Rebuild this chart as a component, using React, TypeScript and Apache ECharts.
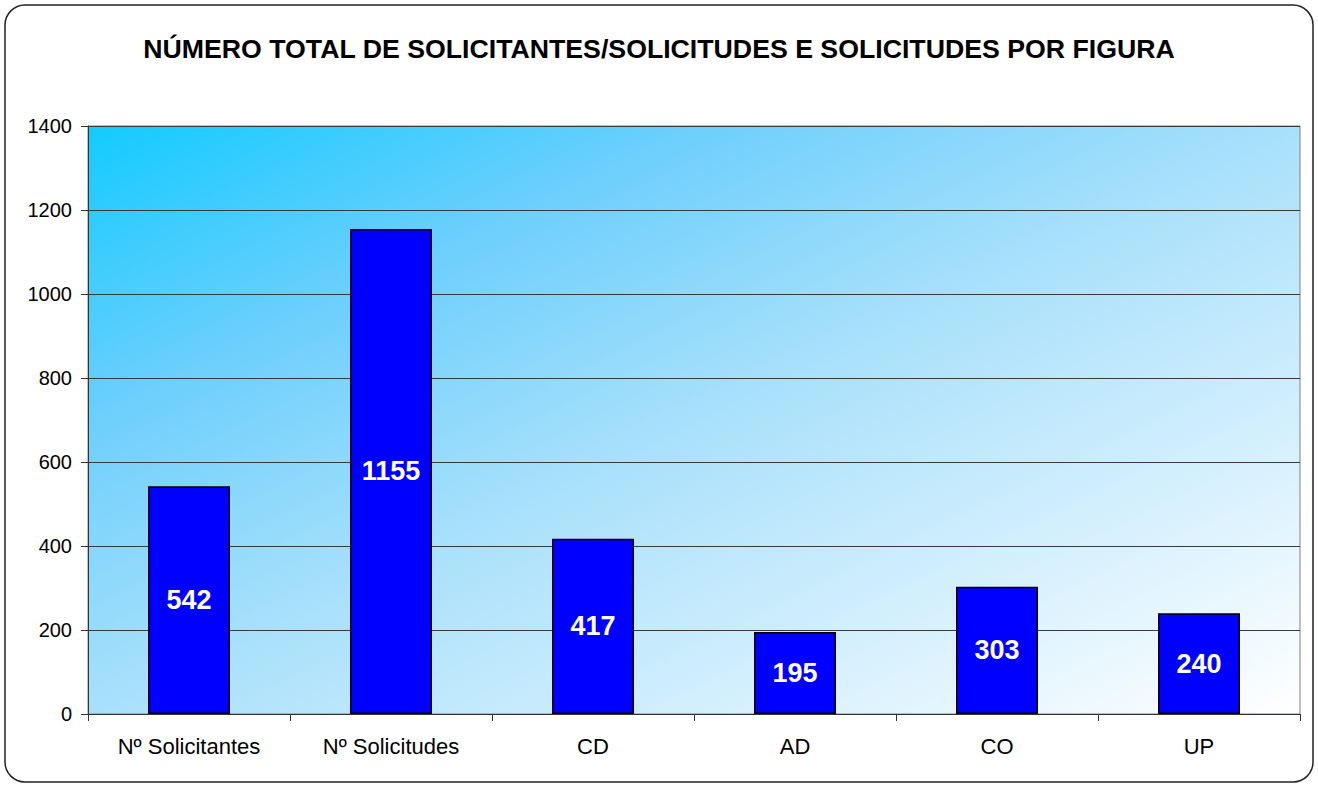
import React, { useEffect, useRef } from "react";
import * as echarts from "echarts";

const categories = ["Nº Solicitantes", "Nº Solicitudes", "CD", "AD", "CO", "UP"];
const values = [542, 1155, 417, 195, 303, 240];
const titleText = "NÚMERO TOTAL DE SOLICITANTES/SOLICITUDES E SOLICITUDES POR FIGURA";

export default function App() {
  const ref = useRef<HTMLDivElement>(null);
  useEffect(() => {
    document.body.style.margin = "0";
    const chart = echarts.init(ref.current!, null, { renderer: "svg" });
    chart.setOption({
      animation: false,
      title: {
        text: titleText,
        left: "center",
        top: 30,
        textStyle: { fontFamily: "Liberation Sans, Arial", fontWeight: "bold", fontSize: 26.7, color: "#000" },
      },
      graphic: [
        {
          type: "rect",
          shape: { x: 5, y: 5, width: 1308, height: 777, r: 20 },
          style: { fill: "none", stroke: "#222", lineWidth: 1.5 },
          z: 100,
        },
      ],
      grid: {
        left: 88,
        right: 18,
        top: 126,
        bottom: 72,
        show: true,
        borderColor: "#808080",
        borderWidth: 1,
        backgroundColor: {
          type: "linear",
          x: 0,
          y: 0,
          x2: 1,
          y2: 1,
          colorStops: [
            { offset: 0, color: "#12CBFF" },
            { offset: 0.25, color: "#6CCFFC" },
            { offset: 0.5, color: "#A8E0FB" },
            { offset: 1, color: "#FFFFFF" },
          ],
        },
      },
      xAxis: {
        type: "category",
        data: categories,
        axisLine: { lineStyle: { color: "#333", width: 1 } },
        axisTick: { show: true, length: 7, lineStyle: { color: "#333" } },
        axisLabel: { fontFamily: "Liberation Sans, Arial", fontSize: 22, color: "#000", margin: 21 },
      },
      yAxis: {
        type: "value",
        min: 0,
        max: 1400,
        interval: 200,
        axisLine: { show: true, lineStyle: { color: "#333", width: 1 } },
        axisTick: { show: true, length: 7, lineStyle: { color: "#333" } },
        axisLabel: {
          fontFamily: "Liberation Sans, Arial",
          fontSize: 20,
          color: "#000",
          margin: 16,
          formatter: (v: number) => String(v),
        },
        splitLine: { lineStyle: { color: "#3a3a3a", width: 1 } },
      },
      series: [
        {
          type: "bar",
          data: values,
          barWidth: 82,
          itemStyle: { color: "#0000FF", borderColor: "#000", borderWidth: 1.5 },
          label: {
            show: true,
            position: "inside",
            color: "#fff",
            fontFamily: "Liberation Sans, Arial",
            fontWeight: "bold",
            fontSize: 27,
          },
        },
      ],
    });
    return () => chart.dispose();
  }, []);
  return <div ref={ref} style={{ width: 1318, height: 786 }} />;
}
